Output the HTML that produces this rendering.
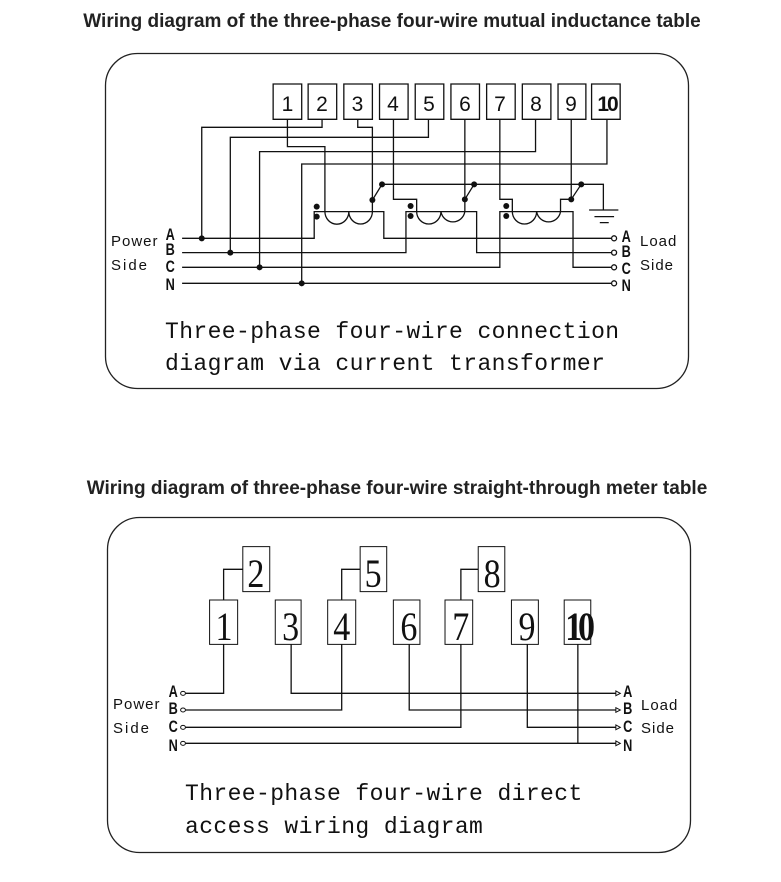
<!DOCTYPE html>
<html><head><meta charset="utf-8"><style>
html,body{margin:0;padding:0;background:#fff;}
svg{display:block;}
.t{font-family:"Liberation Sans",sans-serif;}
.m{font-family:"Liberation Mono",monospace;}
</style></head><body>
<svg width="781" height="882" viewBox="0 0 781 882" xmlns="http://www.w3.org/2000/svg">
<text x="392" y="27" text-anchor="middle" class="t" font-weight="bold" font-size="19" fill="#222">Wiring diagram of the three-phase four-wire mutual inductance table</text>
<rect x="105.5" y="53.5" width="583" height="335" rx="32" fill="none" stroke="#222" stroke-width="1.3"/>
<g transform="translate(100,80) scale(0.357,0.3333)" fill="none" stroke="#111" stroke-width="1.3">
<g>
<rect x="485" y="12" width="80" height="106" vector-effect="non-scaling-stroke"/>
<rect x="583" y="12" width="80" height="106" vector-effect="non-scaling-stroke"/>
<rect x="683" y="12" width="80" height="106" vector-effect="non-scaling-stroke"/>
<rect x="783" y="12" width="80" height="106" vector-effect="non-scaling-stroke"/>
<rect x="883" y="12" width="80" height="106" vector-effect="non-scaling-stroke"/>
<rect x="983" y="12" width="80" height="106" vector-effect="non-scaling-stroke"/>
<rect x="1083" y="12" width="80" height="106" vector-effect="non-scaling-stroke"/>
<rect x="1183" y="12" width="80" height="106" vector-effect="non-scaling-stroke"/>
<rect x="1283" y="12" width="78" height="106" vector-effect="non-scaling-stroke"/>
<rect x="1377" y="12" width="80" height="106" vector-effect="non-scaling-stroke"/>
<path vector-effect="non-scaling-stroke" d="M230 475 H600 V395 H795 V475 H1432 M230 518 H857 V395 H1055 V518 H1432 M230 562 H1120 V395 H1325 V562 H1432 M230 610 H1432
M525 118 V200 H630 V395 M622 118 V142 H285 V475 M722 118 V142 H763 V395 M920 118 V172 H365 V518
M822 118 V358 H887 V395 M1022 118 V395 M1220 118 V215 H447 V562 M1120 118 V358 H1155 V395
M1320 118 V358 H1290 V395 M1420 118 V252 H565 V610
M763 360 L790 313 M1022 358 L1048 313 M1320 358 L1348 313
M790 313 H1410 V390 M1370 390 H1452 M1385 410 H1440 M1400 428 H1425
M630 395 A33 37 0 0 0 697 395 A33 37 0 0 0 763 395
M887 395 A34 37 0 0 0 955 395 A34 37 0 0 0 1022 395
M1155 395 A34 37 0 0 0 1223 395 A34 37 0 0 0 1290 395"/>
</g>
<g fill="#111" stroke="none">
<ellipse cx="285" cy="475" rx="8.4" ry="9"/><ellipse cx="365" cy="518" rx="8.4" ry="9"/>
<ellipse cx="447" cy="562" rx="8.4" ry="9"/><ellipse cx="565" cy="610" rx="8.4" ry="9"/>
<ellipse cx="763" cy="360" rx="8.4" ry="9"/><ellipse cx="790" cy="313" rx="8.4" ry="9"/>
<ellipse cx="1022" cy="358" rx="8.4" ry="9"/><ellipse cx="1048" cy="313" rx="8.4" ry="9"/>
<ellipse cx="1320" cy="358" rx="8.4" ry="9"/><ellipse cx="1348" cy="313" rx="8.4" ry="9"/>
<ellipse cx="607" cy="380" rx="8.4" ry="9"/><ellipse cx="607" cy="410" rx="8.4" ry="9"/>
<ellipse cx="870" cy="378" rx="8.4" ry="9"/><ellipse cx="870" cy="408" rx="8.4" ry="9"/>
<ellipse cx="1138" cy="378" rx="8.4" ry="9"/><ellipse cx="1138" cy="408" rx="8.4" ry="9"/>
</g>
<g fill="#fff" stroke="#111">
<ellipse vector-effect="non-scaling-stroke" cx="1440" cy="475" rx="7" ry="7.5"/>
<ellipse vector-effect="non-scaling-stroke" cx="1440" cy="518" rx="7" ry="7.5"/>
<ellipse vector-effect="non-scaling-stroke" cx="1440" cy="562" rx="7" ry="7.5"/>
<ellipse vector-effect="non-scaling-stroke" cx="1440" cy="610" rx="7" ry="7.5"/>
</g>
</g>
<g class="t" font-size="21" fill="#111" text-anchor="middle">
<text x="287.5" y="111">1</text><text x="322" y="111">2</text><text x="357.5" y="111">3</text>
<text x="393" y="111">4</text><text x="429" y="111">5</text><text x="465" y="111">6</text>
<text x="500" y="111">7</text><text x="536" y="111">8</text><text x="571" y="111">9</text>
<text x="607" y="111" font-weight="bold" letter-spacing="-2">10</text>
</g>
<g class="t" font-size="15" fill="#111">
<text x="111" y="246" letter-spacing="1">Power</text><text x="111" y="270" letter-spacing="2">Side</text>
<text x="640" y="246" letter-spacing="1">Load</text><text x="640" y="270" letter-spacing="1">Side</text>
</g>
<g class="t" font-size="17" font-weight="bold" fill="#111" text-anchor="middle" transform="scale(0.75,1)">
<text x="227" y="240">A</text><text x="227" y="255">B</text><text x="227" y="272">C</text><text x="227" y="290">N</text>
<text x="835" y="242">A</text><text x="835" y="257">B</text><text x="835" y="274">C</text><text x="835" y="291">N</text>
</g>
<text x="165" y="338" class="m" font-size="23" fill="#111" letter-spacing="0.4">Three-phase four-wire connection</text>
<text x="165" y="370" class="m" font-size="23" fill="#111" letter-spacing="0.4">diagram via current transformer</text>

<text x="397" y="494" text-anchor="middle" class="t" font-weight="bold" font-size="19" fill="#222">Wiring diagram of three-phase four-wire straight-through meter table</text>
<rect x="107.5" y="517.5" width="583" height="335" rx="32" fill="none" stroke="#222" stroke-width="1.3"/>
<g transform="translate(100,540) scale(0.369,0.3333)" fill="none" stroke="#111">
<g>
<rect vector-effect="non-scaling-stroke" x="297" y="180" width="76" height="133"/>
<rect vector-effect="non-scaling-stroke" x="475" y="180" width="70" height="133"/>
<rect vector-effect="non-scaling-stroke" x="617" y="180" width="76" height="133"/>
<rect vector-effect="non-scaling-stroke" x="795" y="180" width="72" height="133"/>
<rect vector-effect="non-scaling-stroke" x="935" y="180" width="75" height="133"/>
<rect vector-effect="non-scaling-stroke" x="1115" y="180" width="73" height="133"/>
<rect vector-effect="non-scaling-stroke" x="1258" y="180" width="72" height="133"/>
<rect vector-effect="non-scaling-stroke" x="387" y="20" width="73" height="135"/>
<rect vector-effect="non-scaling-stroke" x="705" y="20" width="72" height="135"/>
<rect vector-effect="non-scaling-stroke" x="1025" y="20" width="72" height="135"/>
<path vector-effect="non-scaling-stroke" stroke-width="1.3" d="M335 180 V88 H387 M655 180 V88 H705 M978 180 V88 H1025
M335 313 V460 H232 M518 313 V460 H1398 M655 313 V510 H232 M838 313 V510 H1398
M978 313 V562 H232 M1158 313 V562 H1398 M1295 313 V610 M232 610 H1398"/>
</g>
<g fill="#fff">
<ellipse vector-effect="non-scaling-stroke" cx="225" cy="460" rx="6.5" ry="6"/>
<ellipse vector-effect="non-scaling-stroke" cx="225" cy="510" rx="6.5" ry="6"/>
<ellipse vector-effect="non-scaling-stroke" cx="225" cy="562" rx="6.5" ry="6"/>
<ellipse vector-effect="non-scaling-stroke" cx="225" cy="610" rx="6.5" ry="6"/>
<path vector-effect="non-scaling-stroke" d="M1398 453 L1410 460 L1398 467Z M1398 503 L1410 510 L1398 517Z M1398 555 L1410 562 L1398 569Z M1398 603 L1410 610 L1398 617Z"/>
</g>
</g>
<g font-family="'Liberation Serif',serif" font-size="40" fill="#111" text-anchor="middle" transform="scale(0.85,1)">
<text x="263.5" y="640">1</text><text x="342" y="640">3</text><text x="402" y="640">4</text>
<text x="481" y="640">6</text><text x="542" y="640">7</text><text x="620" y="640">9</text>
<text x="680" y="640" font-weight="bold" letter-spacing="-5">10</text>
<text x="301" y="587">2</text><text x="439" y="587">5</text><text x="579" y="587">8</text>
</g>
<g class="t" font-size="15" fill="#111">
<text x="113" y="709" letter-spacing="1">Power</text><text x="113" y="733" letter-spacing="2">Side</text>
<text x="641" y="710" letter-spacing="1">Load</text><text x="641" y="733" letter-spacing="1">Side</text>
</g>
<g class="t" font-size="17" font-weight="bold" fill="#111" text-anchor="middle" transform="scale(0.75,1)">
<text x="231" y="697">A</text><text x="231" y="714">B</text><text x="231" y="732">C</text><text x="231" y="751">N</text>
<text x="837" y="697">A</text><text x="837" y="714">B</text><text x="837" y="732">C</text><text x="837" y="751">N</text>
</g>
<text x="185" y="800" class="m" font-size="23" fill="#111" letter-spacing="0.4">Three-phase four-wire direct</text>
<text x="185" y="833" class="m" font-size="23" fill="#111" letter-spacing="0.4">access wiring diagram</text>
</svg>
</body></html>
